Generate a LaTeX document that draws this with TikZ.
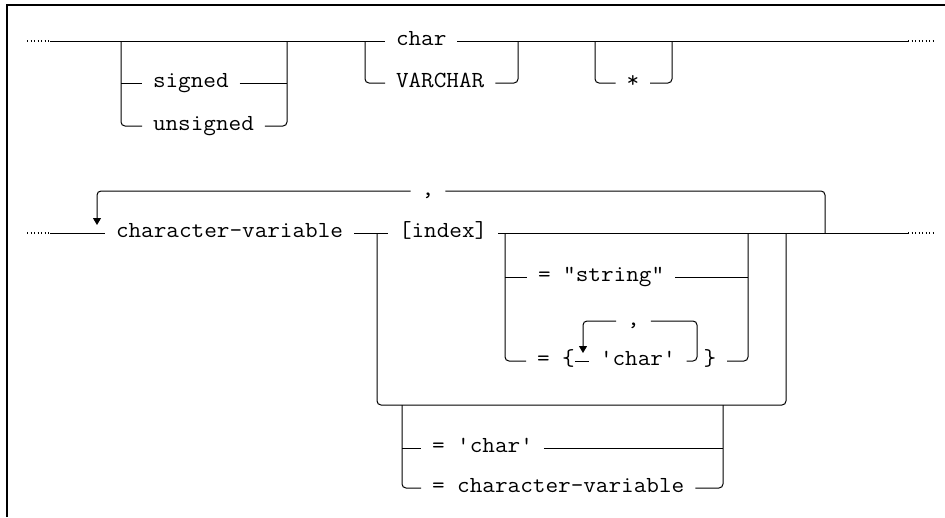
\documentclass[tikz,border=0pt]{standalone}
\usepackage{fontspec}
\usepackage{graphicx}
\usetikzlibrary{arrows.meta}
\newcommand\rrt[1]{\scalebox{1.065}[1]{#1}}
\begin{document}
\begin{tikzpicture}[x=1pt,y=-1pt,
  rail/.style={line width=1pt, rounded corners=4pt},
  lbl/.style={font=\ttfamily\fontsize{23}{23}\selectfont, inner xsep=11pt, inner ysep=0pt, outer sep=0pt, text height=9.9pt, text depth=0pt, anchor=west},
  tight/.style={lbl, inner xsep=0pt},
  dotline/.style={line width=1.1pt, dash pattern=on 1.1pt off 2.4pt},
  boxline/.style={line width=2pt},
  arr/.style={-{Triangle[width=8pt,length=7pt]}}
]
\useasboundingbox (0,0) rectangle (945,517);
% frame
\draw[boxline] (7,517) -- (7,5) -- (945,5);

% ---------- Row 1 ----------
\coordinate (d1) at (27,41);
\coordinate (s1) at (50,41);
\coordinate (e1) at (908,41);
\coordinate (f1) at (935,41);
\coordinate (a1) at (121,41);
\coordinate (a2) at (287,41);
\coordinate (b1) at (365,41);
\coordinate (b2) at (518,41);
\coordinate (c1) at (595,41);
\coordinate (c2) at (672,41);

\node[lbl] (signed) at (142,83) {\rrt{signed}};
\node[lbl] (unsigned) at (142,126) {\rrt{unsigned}};
\node[lbl] (char) at (385,41) {\rrt{char}};
\node[lbl] (varchar) at (385,83) {\rrt{VARCHAR}};
\node[lbl] (star) at (615.6,83) {\rrt{*}};

\draw[dotline] (d1) -- (s1);
\draw[dotline] (e1) -- (f1);
\draw[rail] (s1) -- (char.west);
\draw[rail] (char.east) -- (e1);

\draw[rail] (a1) |- (unsigned.west);
\draw[rail] (signed.west -| a1) -- (signed.west);
\draw[rail] (signed.east) -- (signed.east -| a2);
\draw[rail] (unsigned.east) -| (a2);

\draw[rail] (b1) |- (varchar.west);
\draw[rail] (varchar.east) -| (b2);

\draw[rail] (c1) |- (star.west);
\draw[rail] (star.east) -| (c2);

% ---------- Row 2 ----------
\coordinate (d2) at (27,233);
\coordinate (s2) at (50,233);
\coordinate (e2) at (908,233);
\coordinate (f2) at (935,233);
\coordinate (L2) at (97,225);
\coordinate (R) at (825,233);
\coordinate (g1) at (377,233);
\coordinate (g2) at (786,233);
\coordinate (g3) at (377,405);
\coordinate (g4) at (786,405);
\coordinate (h1) at (505,233);
\coordinate (h2) at (748,233);
\coordinate (k2) at (583,353);
\coordinate (k3) at (697,321);
\coordinate (k4) at (697,361);
\coordinate (m1) at (402,405);
\coordinate (m2) at (723,405);

\node[lbl] (cv) at (105,233) {\rrt{character-variable}};
\node[lbl] (idx) at (388,233) {\rrt{[index]}};
\node[lbl, anchor=center] (com1) at (428,191) {\rrt{,}};
\node[lbl] (str) at (527,277) {\rrt{= "string"}};
\node[tight] (eqb) at (537,361) {\rrt{= \{}};
\node[lbl] (ch2) at (589,361) {\rrt{'char'}};
\node[lbl, anchor=center] (com2) at (633.5,321) {\rrt{,}};
\node[lbl] (rb) at (692.6,361) {\rrt{\}}};
\node[lbl] (lc1) at (421,448) {\rrt{= 'char'}};
\node[lbl] (lc2) at (421,488) {\rrt{= character-variable}};

\draw[dotline] (d2) -- (s2);
\draw[dotline] (e2) -- (f2);
\draw[rail] (s2) -- (cv.west);
\draw[rail] (cv.east) -- (idx.west);
\draw[rail] (idx.east) -- (e2);

% repeat loop
\draw[rail] (R) |- (com1.east);
\draw[rail, arr] (com1.west) -| (L2);

% bypass of [index]
\draw[rail] (g1) -- (g3) -- (g4) -- (g2);

% initialiser choice
\draw[rail] (h1) |- ([xshift=-11pt]eqb.west);
\draw[rail] (str.west -| h1) -- (str.west);
\draw[rail] (str.east) -- (str.east -| h2);
\draw[rail] (rb.east) -| (h2);

% inner loop
\draw[rail] (eqb.east) -- (ch2.west);
\draw[rail] (ch2.east) -- (k4) -- (k3) -- (com2.east);
\draw[rail, arr] (com2.west) -| (k2);

% lower choice
\draw[rail] (m1) |- (lc2.west);
\draw[rail] (lc1.west -| m1) -- (lc1.west);
\draw[rail] (lc1.east) -- (lc1.east -| m2);
\draw[rail] (lc2.east) -| (m2);
\end{tikzpicture}
\end{document}
